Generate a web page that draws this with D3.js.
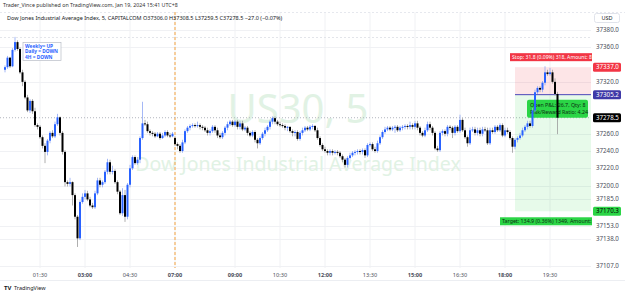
<!DOCTYPE html>
<html>
<head>
<meta charset="utf-8">
<script src="https://cdn.jsdelivr.net/npm/d3@7"></script>
<style>
  body { margin: 0; background: #fff; }
  svg { display: block; font-family: "Noto Sans", Roboto, sans-serif; }
</style>
</head>
<body>
<div id="chart"></div>
<script>
// 5 minute bars, US30 (CAPITALCOM), session 1 then session 2
var sessionStarts = ["00:20", "07:00"];
var sessionBars = [68, 154];

var opens = [
  37334, 37337, 37348, 37338, 37357, 37366, 37358, 37331, 37320, 37302,
  37287, 37298, 37286, 37270, 37268, 37256, 37246, 37239, 37252, 37261,
  37257, 37271, 37279, 37261, 37239, 37204, 37202, 37204, 37189, 37164,
  37139, 37181, 37187, 37191, 37184, 37177, 37175, 37191, 37206, 37201,
  37204, 37216, 37227, 37216, 37217, 37204, 37193, 37168, 37189, 37164,
  37201, 37220, 37233, 37226, 37230, 37255, 37272, 37271, 37263, 37261,
  37260, 37257, 37260, 37255, 37258, 37262, 37258, 37257,
  37255, 37248, 37246, 37240, 37250, 37263, 37267, 37269, 37270, 37269,
  37270, 37268, 37267, 37264, 37261, 37263, 37268, 37264, 37258, 37256,
  37261, 37267, 37271, 37274, 37270, 37274, 37268, 37272, 37265, 37267,
  37261, 37258, 37262, 37253, 37249, 37255, 37260, 37264, 37268, 37274,
  37278, 37274, 37271, 37270, 37269, 37267, 37268, 37263, 37261, 37262,
  37254, 37261, 37264, 37267, 37265, 37268, 37269, 37264, 37255, 37247,
  37242, 37240, 37238, 37240, 37238, 37239, 37238, 37234, 37230, 37224,
  37232, 37235, 37238, 37239, 37240, 37239, 37241, 37235, 37247, 37248,
  37242, 37240, 37249, 37256, 37262, 37265, 37267, 37265, 37267, 37268,
  37264, 37267, 37268, 37269, 37268, 37270, 37268, 37272, 37267, 37261,
  37258, 37264, 37271, 37267, 37261, 37243, 37241, 37261, 37263, 37260,
  37268, 37267, 37261, 37268, 37263, 37276, 37264, 37256, 37249, 37264,
  37265, 37261, 37264, 37260, 37265, 37264, 37249, 37264, 37262, 37268,
  37264, 37270, 37258, 37264, 37262, 37255, 37245, 37253, 37255, 37258,
  37264, 37268, 37272, 37269, 37287, 37308, 37313, 37311, 37319, 37331,
  37329, 37331, 37320, 37306
];
var highs = [
  37339, 37350, 37349, 37359, 37372, 37368, 37360, 37334, 37322, 37305,
  37300, 37300, 37290, 37272, 37270, 37258, 37249, 37254, 37263, 37264,
  37274, 37283, 37280, 37263, 37241, 37206, 37209, 37205, 37191, 37166,
  37183, 37191, 37195, 37194, 37187, 37180, 37194, 37209, 37209, 37206,
  37218, 37231, 37230, 37223, 37219, 37206, 37195, 37197, 37195, 37203,
  37224, 37235, 37235, 37233, 37257, 37297, 37276, 37274, 37265, 37263,
  37262, 37262, 37262, 37261, 37264, 37264, 37261, 37262,
  37257, 37250, 37248, 37253, 37265, 37269, 37271, 37272, 37272, 37274,
  37272, 37270, 37269, 37267, 37265, 37270, 37270, 37267, 37261, 37263,
  37269, 37274, 37276, 37276, 37276, 37276, 37275, 37275, 37269, 37269,
  37263, 37264, 37264, 37255, 37257, 37262, 37267, 37270, 37276, 37280,
  37280, 37276, 37274, 37272, 37271, 37269, 37268, 37265, 37264, 37264,
  37263, 37267, 37269, 37269, 37270, 37271, 37270, 37267, 37257, 37249,
  37245, 37242, 37242, 37242, 37241, 37241, 37240, 37236, 37232, 37234,
  37238, 37240, 37241, 37242, 37242, 37243, 37243, 37249, 37250, 37250,
  37245, 37252, 37258, 37264, 37268, 37269, 37269, 37269, 37270, 37270,
  37269, 37270, 37271, 37271, 37274, 37272, 37275, 37275, 37269, 37263,
  37267, 37274, 37274, 37269, 37263, 37246, 37263, 37265, 37265, 37270,
  37270, 37269, 37270, 37270, 37282, 37278, 37267, 37258, 37267, 37268,
  37268, 37267, 37267, 37268, 37268, 37267, 37267, 37267, 37270, 37270,
  37272, 37272, 37267, 37267, 37264, 37257, 37255, 37257, 37261, 37267,
  37270, 37275, 37275, 37290, 37311, 37315, 37315, 37321, 37338, 37334,
  37336, 37334, 37324, 37308.5
];
var lows = [
  37331, 37335, 37336, 37337, 37355, 37356, 37329, 37315, 37300, 37285,
  37284, 37283, 37268, 37265, 37254, 37243, 37226, 37235, 37249, 37255,
  37255, 37269, 37258, 37236, 37199, 37199, 37199, 37177, 37161, 37129,
  37137, 37179, 37184, 37182, 37175, 37173, 37173, 37189, 37198, 37198,
  37202, 37213, 37213, 37213, 37202, 37190, 37166, 37165, 37158, 37161,
  37198, 37218, 37224, 37224, 37226, 37253, 37269, 37261, 37258, 37257,
  37255, 37256, 37253, 37254, 37256, 37256, 37255, 37256,
  37246, 37242, 37238, 37238, 37248, 37261, 37264, 37267, 37267, 37267,
  37265, 37264, 37262, 37258, 37258, 37261, 37261, 37255, 37254, 37254,
  37258, 37264, 37269, 37268, 37268, 37265, 37265, 37263, 37263, 37258,
  37256, 37256, 37250, 37243, 37247, 37253, 37257, 37262, 37265, 37271,
  37271, 37269, 37268, 37267, 37264, 37263, 37261, 37257, 37257, 37252,
  37252, 37258, 37262, 37263, 37263, 37265, 37262, 37253, 37245, 37240,
  37238, 37235, 37235, 37235, 37236, 37235, 37232, 37227, 37221, 37221,
  37230, 37233, 37235, 37236, 37236, 37236, 37232, 37233, 37245, 37240,
  37238, 37238, 37247, 37254, 37260, 37263, 37263, 37263, 37261, 37262,
  37262, 37264, 37265, 37265, 37265, 37265, 37265, 37264, 37258, 37256,
  37256, 37262, 37264, 37258, 37241, 37239, 37239, 37258, 37257, 37257,
  37264, 37255, 37258, 37261, 37261, 37262, 37254, 37245, 37247, 37262,
  37258, 37258, 37257, 37257, 37262, 37247, 37247, 37260, 37260, 37262,
  37262, 37256, 37256, 37260, 37253, 37238, 37242, 37250, 37253, 37256,
  37262, 37265, 37267, 37267, 37285, 37306, 37308, 37308, 37316, 37327,
  37327, 37318, 37304, 37259.5
];
var closes = [
  37337, 37348, 37338, 37357, 37366, 37358, 37331, 37320, 37302, 37287,
  37298, 37286, 37270, 37268, 37256, 37246, 37239, 37252, 37261, 37257,
  37271, 37279, 37261, 37239, 37204, 37202, 37204, 37189, 37164, 37139,
  37181, 37187, 37191, 37184, 37177, 37175, 37191, 37206, 37201, 37204,
  37216, 37227, 37216, 37217, 37204, 37193, 37168, 37189, 37164, 37201,
  37220, 37233, 37226, 37230, 37255, 37272, 37271, 37263, 37261, 37260,
  37257, 37260, 37255, 37258, 37262, 37258, 37257, 37260,
  37248, 37246, 37240, 37250, 37263, 37267, 37269, 37270, 37269, 37270,
  37268, 37267, 37264, 37261, 37263, 37268, 37264, 37258, 37256, 37261,
  37267, 37271, 37274, 37270, 37274, 37268, 37272, 37265, 37267, 37261,
  37258, 37262, 37253, 37249, 37255, 37260, 37264, 37268, 37274, 37278,
  37274, 37271, 37270, 37269, 37267, 37268, 37263, 37261, 37262, 37254,
  37261, 37264, 37267, 37265, 37268, 37269, 37264, 37255, 37247, 37242,
  37240, 37238, 37240, 37238, 37239, 37238, 37234, 37230, 37224, 37232,
  37235, 37238, 37239, 37240, 37239, 37241, 37235, 37247, 37248, 37242,
  37240, 37249, 37256, 37262, 37265, 37267, 37265, 37267, 37268, 37264,
  37267, 37268, 37269, 37268, 37270, 37268, 37272, 37267, 37261, 37258,
  37264, 37271, 37267, 37261, 37243, 37241, 37261, 37263, 37260, 37268,
  37267, 37261, 37268, 37263, 37276, 37264, 37256, 37249, 37264, 37265,
  37261, 37264, 37260, 37265, 37264, 37249, 37264, 37262, 37268, 37264,
  37270, 37258, 37264, 37262, 37255, 37245, 37253, 37255, 37258, 37264,
  37268, 37272, 37269, 37287, 37308, 37313, 37311, 37319, 37331, 37329,
  37331, 37320, 37306, 37278.5
];

var timeTicks = ["01:30", "03:00", "04:30", "07:00", "09:00", "10:30", "12:00", "13:30", "15:00", "16:30", "18:00", "19:30"];
var boldTicks = ["03:00", "07:00", "09:00", "12:00", "15:00", "18:00"];
var priceTicks = [37380, 37360, 37320, 37260, 37240, 37220, 37200, 37185, 37153, 37138, 37107];

// long position tool
var entryPrice = 37305.2, stopPrice = 37337.0, targetPrice = 37170.3, lastPrice = 37278.5;
var positionStart = "18:20";

var W = 625, H = 295;
var plotR = 591, plotT = 12, plotB = 268;

var svg = d3.select("#chart").append("svg")
    .attr("width", W)
    .attr("height", H);

var x = d3.scaleLinear().domain([-2, 234]).range([0, 590]);
var y = d3.scaleLinear().domain([37107, 37380]).range([266, 30]);

function toMin(s) { var p = s.split(":"); return +p[0] * 60 + +p[1]; }
function barIndex(t) {
  var m = toMin(t), offset = 0;
  for (var s = 0; s < sessionStarts.length; s++) {
    var st = toMin(sessionStarts[s]);
    if (m >= st && m < st + sessionBars[s] * 5) return offset + (m - st) / 5;
    offset += sessionBars[s];
  }
  return null;
}

var bars = closes.map(function(c, i) {
  return { i: i, o: opens[i], h: highs[i], l: lows[i], c: c };
});

// grid
svg.append("g").selectAll("line")
  .data(timeTicks)
  .enter().append("line")
    .attr("x1", function(d) { return x(barIndex(d)); })
    .attr("x2", function(d) { return x(barIndex(d)); })
    .attr("y1", plotT).attr("y2", plotB)
    .attr("stroke", "#f0f1f4");

svg.append("g").selectAll("line")
  .data(priceTicks)
  .enter().append("line")
    .attr("x1", 0).attr("x2", plotR)
    .attr("y1", function(d) { return Math.round(y(d)) + 0.5; })
    .attr("y2", function(d) { return Math.round(y(d)) + 0.5; })
    .attr("stroke", "#f0f1f4");

// pane borders
svg.append("line").attr("x1", 0).attr("x2", W).attr("y1", plotT + 0.5).attr("y2", plotT + 0.5)
  .attr("stroke", "#e6e8ee").attr("stroke-dasharray", "2,2");
svg.append("line").attr("x1", 0).attr("x2", plotR).attr("y1", 37.5).attr("y2", 37.5)
  .attr("stroke", "#e3e5ea").attr("stroke-dasharray", "2,2");
svg.append("line").attr("x1", 0).attr("x2", W).attr("y1", 280.5).attr("y2", 280.5)
  .attr("stroke", "#eceef2");

// watermark
svg.append("text")
  .attr("x", 298).attr("y", 123)
  .attr("text-anchor", "middle")
  .style("font-size", "40px")
  .style("fill", "#e1f2e4")
  .text("US30, 5");
svg.append("text")
  .attr("x", 298).attr("y", 171)
  .attr("text-anchor", "middle")
  .style("font-size", "19.5px")
  .style("fill", "#e1f2e4")
  .text("Dow Jones Industrial Average Index");

// session break
var breakX = x(barIndex("07:00"));
svg.append("line")
  .attr("x1", breakX).attr("x2", breakX)
  .attr("y1", plotT).attr("y2", plotB)
  .attr("stroke", "#f5a340")
  .attr("stroke-dasharray", "3,2");

// last price line
svg.append("line")
  .attr("x1", 0).attr("x2", plotR)
  .attr("y1", y(lastPrice)).attr("y2", y(lastPrice))
  .attr("stroke", "#b2b5be")
  .attr("stroke-dasharray", "1,2");

// position zones
var px0 = x(barIndex(positionStart));
svg.append("rect")
  .attr("x", px0).attr("y", y(stopPrice))
  .attr("width", plotR - px0).attr("height", y(entryPrice) - y(stopPrice))
  .attr("fill", "rgba(242,54,69,0.13)");
svg.append("rect")
  .attr("x", px0).attr("y", y(entryPrice))
  .attr("width", plotR - px0).attr("height", y(targetPrice) - y(entryPrice))
  .attr("fill", "rgba(60,210,80,0.12)");
svg.append("line")
  .attr("x1", px0).attr("x2", plotR)
  .attr("y1", y(entryPrice)).attr("y2", y(entryPrice))
  .attr("stroke", "#4b47b8").attr("stroke-width", 1);

var clip = svg.append("clipPath").attr("id", "plotclip");
clip.append("rect").attr("x", 0).attr("y", 0).attr("width", plotR + 1).attr("height", H);

// stop label
var lab = svg.append("g").attr("clip-path", "url(#plotclip)");
lab.append("rect").attr("x", 510).attr("y", y(stopPrice) - 14).attr("width", 90).attr("height", 8)
  .attr("fill", "#f23645");
lab.append("text").attr("x", 512).attr("y", y(stopPrice) - 8)
  .style("font-size", "5.1px").style("fill", "#fff")
  .text("Stop: 31.8 (0.09%) 318, Amount: 8");
// target label
lab.append("rect").attr("x", 500).attr("y", y(targetPrice) + 6).attr("width", 100).attr("height", 8)
  .attr("fill", "#2bd546");
lab.append("text").attr("x", 502).attr("y", y(targetPrice) + 12)
  .style("font-size", "5.3px").style("fill", "#0b2e12")
  .text("Target: 134.9 (0.36%) 1349, Amount: 1");
// open P&L label
lab.append("rect").attr("x", 527).attr("y", y(entryPrice) + 5).attr("width", 61).attr("height", 18)
  .attr("rx", 2).attr("fill", "#2bd546");
lab.append("text").attr("x", 530).attr("y", y(entryPrice) + 12)
  .style("font-size", "5.3px").style("fill", "#0b2e12")
  .text("Open P&L: 26.7, Qty: 8");
lab.append("text").attr("x", 530).attr("y", y(entryPrice) + 19.5)
  .style("font-size", "5.3px").style("fill", "#0b2e12")
  .text("Risk/Reward Ratio: 4.24");

// candles
var candle = svg.append("g").selectAll("g")
  .data(bars)
  .enter().append("g");

candle.append("line")
  .attr("x1", function(d) { return x(d.i); })
  .attr("x2", function(d) { return x(d.i); })
  .attr("y1", function(d) { return y(d.h); })
  .attr("y2", function(d) { return y(d.l); })
  .attr("stroke", function(d) { return d.c >= d.o ? "#8ea6f4" : "#9a9a9a"; })
  .attr("stroke-width", 0.8);

candle.append("rect")
  .attr("x", function(d) { return x(d.i) - 1; })
  .attr("width", 2)
  .attr("y", function(d) { return y(Math.max(d.o, d.c)); })
  .attr("height", function(d) { return Math.max(1, Math.abs(y(d.o) - y(d.c))); })
  .attr("fill", function(d) { return d.c >= d.o ? "#2962ff" : "#000000"; });

// info box
var info = svg.append("g");
info.append("rect").attr("x", 23).attr("y", 42.5).attr("width", 38).attr("height", 18)
  .attr("fill", "#fff").attr("stroke", "#b8bcc6").attr("stroke-width", 0.7);
["Weekly= UP", "Daily = DOWN", "4H = DOWN"].forEach(function(t, k) {
  info.append("text").attr("x", 25).attr("y", 47.6 + k * 5.5)
    .style("font-size", "4.8px").style("font-weight", "bold").style("fill", "#2962ff")
    .text(t);
});

// price axis
svg.append("g").selectAll("text")
  .data(priceTicks)
  .enter().append("text")
    .attr("x", 596)
    .attr("y", function(d) { return y(d) + 2; })
    .style("font-size", "6.2px")
    .style("fill", "#4a4e59")
    .text(function(d) { return d3.format(".1f")(d); });

var priceLabels = [
  { v: stopPrice, bg: "#f23645", fg: "#fff" },
  { v: entryPrice, bg: "#3f3aa8", fg: "#fff" },
  { v: lastPrice, bg: "#000", fg: "#fff" },
  { v: targetPrice, bg: "#2bd546", fg: "#000" }
];
var pl = svg.append("g").selectAll("g").data(priceLabels).enter().append("g");
pl.append("rect")
  .attr("x", 593).attr("y", function(d) { return y(d.v) - 4.5; })
  .attr("width", 28).attr("height", 9)
  .attr("rx", 1.5)
  .attr("fill", function(d) { return d.bg; });
pl.append("text")
  .attr("x", 596).attr("y", function(d) { return y(d.v) + 2; })
  .style("font-size", "6.2px")
  .style("fill", function(d) { return d.fg; })
  .text(function(d) { return d3.format(".1f")(d.v); });

svg.append("rect").attr("x", 594.5).attr("y", 13.5).attr("width", 25).attr("height", 9)
  .attr("rx", 2).attr("fill", "#fff").attr("stroke", "#e0e3eb");
svg.append("text").attr("x", 607).attr("y", 20).attr("text-anchor", "middle")
  .style("font-size", "5.5px").style("fill", "#131722").text("USD");

// time axis
svg.append("g").selectAll("text")
  .data(timeTicks)
  .enter().append("text")
    .attr("x", function(d) { return x(barIndex(d)); })
    .attr("y", 277)
    .attr("text-anchor", "middle")
    .style("font-size", "5.6px")
    .style("font-weight", function(d) { return boldTicks.indexOf(d) >= 0 ? "bold" : "normal"; })
    .style("fill", "#4a4e59")
    .text(function(d) { return d; });

// header texts
svg.append("text").attr("x", 3).attr("y", 7)
  .style("font-size", "5.3px").style("fill", "#333")
  .text("Trader_Vince published on TradingView.com, Jan 19, 2024 15:41 UTC+8");
svg.append("text").attr("x", 7).attr("y", 19.5)
  .style("font-size", "5.5px").style("fill", "#131722")
  .text("Dow Jones Industrial Average Index, 5, CAPITALCOM  O37306.0  H37308.5  L37259.5  C37278.5  \u221227.0 (\u22120.07%)");

// logo
svg.append("text").attr("x", 4).attr("y", 290)
  .style("font-size", "6px").style("font-weight", "bold").style("fill", "#131722").text("TV");
svg.append("text").attr("x", 14).attr("y", 290)
  .style("font-size", "5.5px").style("fill", "#131722").text("TradingView");
</script>
</body>
</html>
